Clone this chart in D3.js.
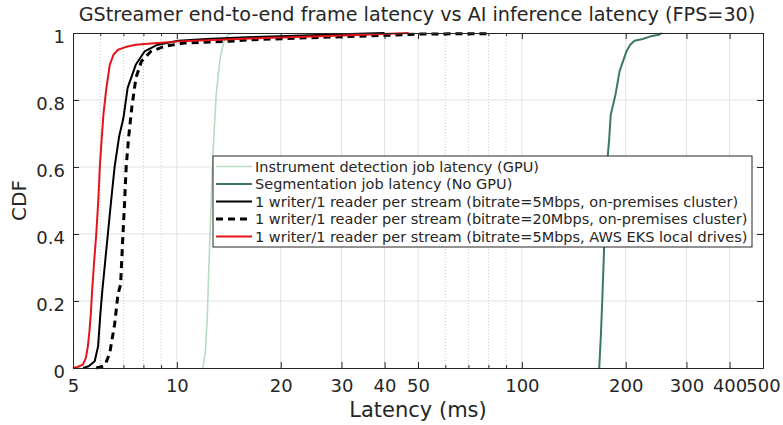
<!DOCTYPE html>
<html>
<head>
<meta charset="utf-8">
<script src="https://cdn.jsdelivr.net/npm/d3@7"></script>
<style>
  html, body { margin: 0; padding: 0; background: #fff; }
  svg { display: block; font-family: "DejaVu Sans", sans-serif; }
</style>
</head>
<body>
<svg id="chart" width="783" height="425"></svg>
<script>
// Latency CDFs (latency in ms, cumulative fraction)
const instrumentLatency = [11.9, 12.1, 12.25, 12.4, 12.55, 12.7, 12.85, 13.0, 13.2, 13.4, 13.7, 14.1, 14.6];
const instrumentCdf     = [0, 0.05, 0.15, 0.32, 0.47, 0.62, 0.72, 0.815, 0.88, 0.935, 0.975, 0.995, 1.0];

const segLatency = [167.6, 169.5, 171, 172.9, 174.8, 177, 179, 181, 186.8, 192, 201, 206, 212, 224, 236, 250, 255];
const segCdf     = [0, 0.1, 0.2, 0.34, 0.54, 0.62, 0.68, 0.756, 0.816, 0.886, 0.945, 0.965, 0.977, 0.982, 0.99, 0.995, 1.0];

const onprem5Latency = [5.35, 5.55, 5.78, 5.91, 6.0, 6.08, 6.2, 6.31, 6.45, 6.6, 6.8, 7.0, 7.2, 7.6, 8.06, 8.8, 10.1, 12.2, 16, 22, 30, 40];
const onprem5Cdf     = [0, 0.005, 0.02, 0.064, 0.16, 0.23, 0.32, 0.40, 0.50, 0.60, 0.69, 0.746, 0.836, 0.905, 0.945, 0.965, 0.977, 0.982, 0.987, 0.992, 0.996, 1.0];

const onprem20Latency = [5.84, 6.05, 6.2, 6.39, 6.6, 6.75, 6.87, 6.98, 7.06, 7.13, 7.25, 7.4, 7.61, 7.89, 8.4, 9.2, 10.5, 14.1, 16.6, 26, 40.8, 50.8, 80, 81];
const onprem20Cdf     = [0, 0.004, 0.01, 0.045, 0.13, 0.22, 0.25, 0.40, 0.50, 0.60, 0.69, 0.776, 0.866, 0.915, 0.945, 0.96, 0.97, 0.975, 0.98, 0.987, 0.993, 0.997, 0.998, 1.0];

const awsLatency = [5.0, 5.15, 5.34, 5.45, 5.52, 5.58, 5.63, 5.68, 5.76, 5.84, 5.92, 5.98, 6.06, 6.13, 6.25, 6.39, 6.55, 6.75, 7.1, 7.6, 8.8, 10.1, 13.3, 18, 26, 35, 47];
const awsCdf     = [0, 0.003, 0.01, 0.03, 0.064, 0.11, 0.16, 0.23, 0.32, 0.40, 0.50, 0.60, 0.69, 0.76, 0.836, 0.905, 0.935, 0.95, 0.958, 0.965, 0.97, 0.975, 0.98, 0.985, 0.99, 0.995, 1.0];

const xTickValues = [5, 10, 20, 30, 40, 50, 100, 200, 300, 400, 500];
const xMinorValues = [6, 7, 8, 9, 60, 70, 80, 90];
const yTickValues = [0, 0.2, 0.4, 0.6, 0.8, 1];

const seriesNames = [
  "Instrument detection job latency (GPU)",
  "Segmentation job latency (No GPU)",
  "1 writer/1 reader per stream (bitrate=5Mbps, on-premises cluster)",
  "1 writer/1 reader per stream (bitrate=20Mbps, on-premises cluster)",
  "1 writer/1 reader per stream (bitrate=5Mbps, AWS EKS local drives)"
];

const series = [
  { name: seriesNames[0], xs: instrumentLatency, ys: instrumentCdf, color: "#b6dcc2", width: 1.6, dash: null },
  { name: seriesNames[1], xs: segLatency, ys: segCdf, color: "#3b7a5f", width: 2, dash: null },
  { name: seriesNames[2], xs: onprem5Latency, ys: onprem5Cdf, color: "#000000", width: 2, dash: null },
  { name: seriesNames[3], xs: onprem20Latency, ys: onprem20Cdf, color: "#000000", width: 3, dash: "7,5" },
  { name: seriesNames[4], xs: awsLatency, ys: awsCdf, color: "#e4141b", width: 2, dash: null }
];

const axisColor = "#262626";
const plotLeft = 73, plotRight = 763, plotTop = 33, plotBottom = 368;

const svg = d3.select("#chart");
const x = d3.scaleLog().domain([5, 500]).range([plotLeft, plotRight]);
const y = d3.scaleLinear().domain([0, 1]).range([plotBottom, plotTop]);

// Grid: dotted minor lines, solid major lines
const grid = svg.append("g");
grid.selectAll("line.minor").data(xMinorValues).enter().append("line")
  .attr("x1", d => x(d)).attr("x2", d => x(d)).attr("y1", plotTop).attr("y2", plotBottom)
  .attr("stroke", "#c8c8c8").attr("stroke-width", 1).attr("stroke-dasharray", "1,2");
grid.selectAll("line.vmaj").data(xTickValues.slice(1, -1)).enter().append("line")
  .attr("x1", d => x(d)).attr("x2", d => x(d)).attr("y1", plotTop).attr("y2", plotBottom)
  .attr("stroke", "#e2e2e2").attr("stroke-width", 1);
grid.selectAll("line.hmaj").data(yTickValues.slice(1, -1)).enter().append("line")
  .attr("x1", plotLeft).attr("x2", plotRight).attr("y1", d => y(d)).attr("y2", d => y(d))
  .attr("stroke", "#e2e2e2").attr("stroke-width", 1);

// Curves
const line = d3.line().x(d => x(d[0])).y(d => y(d[1]));
const curves = svg.append("g");
series.forEach(s => {
  curves.append("path")
    .datum(s.xs.map((v, i) => [v, s.ys[i]]))
    .attr("d", line)
    .attr("fill", "none")
    .attr("stroke", s.color)
    .attr("stroke-width", s.width)
    .attr("stroke-linejoin", "round")
    .attr("stroke-dasharray", s.dash);
});

// Axes box with inward ticks
const axisG = svg.append("g");
function drawAxis(g, scale, orient, ticks, size, labels) {
  const axis = orient(scale).tickValues(ticks).tickSizeInner(-size).tickSizeOuter(0)
    .tickFormat(labels ? d3.format("") : () => "");
  g.call(axis);
  g.attr("font-family", null);
  g.select(".domain").attr("stroke", axisColor);
  g.selectAll(".tick line").attr("stroke", axisColor);
  g.selectAll(".tick text").attr("fill", axisColor).attr("font-size", 18);
  return g;
}
const bx = drawAxis(axisG.append("g").attr("transform", `translate(0,${plotBottom})`), x, d3.axisBottom, xTickValues, 6, true);
bx.selectAll(".tick text").attr("dy", null).attr("y", 24);
drawAxis(axisG.append("g").attr("transform", `translate(0,${plotBottom})`), x, d3.axisBottom, xMinorValues, 3, false);
drawAxis(axisG.append("g").attr("transform", `translate(0,${plotTop})`), x, d3.axisTop, xTickValues, 6, false);
drawAxis(axisG.append("g").attr("transform", `translate(0,${plotTop})`), x, d3.axisTop, xMinorValues, 3, false);
const ly = drawAxis(axisG.append("g").attr("transform", `translate(${plotLeft},0)`), y, d3.axisLeft, yTickValues, 6, true);
ly.selectAll(".tick text").attr("x", -8).attr("dy", "0.5em");
drawAxis(axisG.append("g").attr("transform", `translate(${plotRight},0)`), y, d3.axisRight, yTickValues, 6, false);

// Titles
svg.append("text").attr("x", 417).attr("y", 21)
  .attr("text-anchor", "middle").attr("font-size", 19.2).attr("fill", axisColor)
  .text("GStreamer end-to-end frame latency vs AI inference latency (FPS=30)");
svg.append("text").attr("x", 418).attr("y", 417)
  .attr("text-anchor", "middle").attr("font-size", 21).attr("fill", axisColor)
  .text("Latency (ms)");
svg.append("text").attr("transform", `translate(26,${(plotTop + plotBottom) / 2}) rotate(-90)`)
  .attr("text-anchor", "middle").attr("font-size", 20).attr("fill", axisColor)
  .text("CDF");

// Legend
const lg = svg.append("g").attr("transform", "translate(213,156)");
lg.append("rect").attr("width", 539).attr("height", 91)
  .attr("fill", "#fff").attr("stroke", axisColor).attr("stroke-width", 1);
series.forEach((s, i) => {
  const cy = 10.5 + i * 17.5;
  lg.append("line").attr("x1", 3).attr("x2", 39).attr("y1", cy).attr("y2", cy)
    .attr("stroke", s.color).attr("stroke-width", s.width)
    .attr("stroke-dasharray", s.dash);
  lg.append("text").attr("x", 42).attr("y", cy).attr("dy", "0.36em")
    .attr("font-size", 14.5).attr("fill", axisColor).text(s.name);
});
</script>
</body>
</html>
